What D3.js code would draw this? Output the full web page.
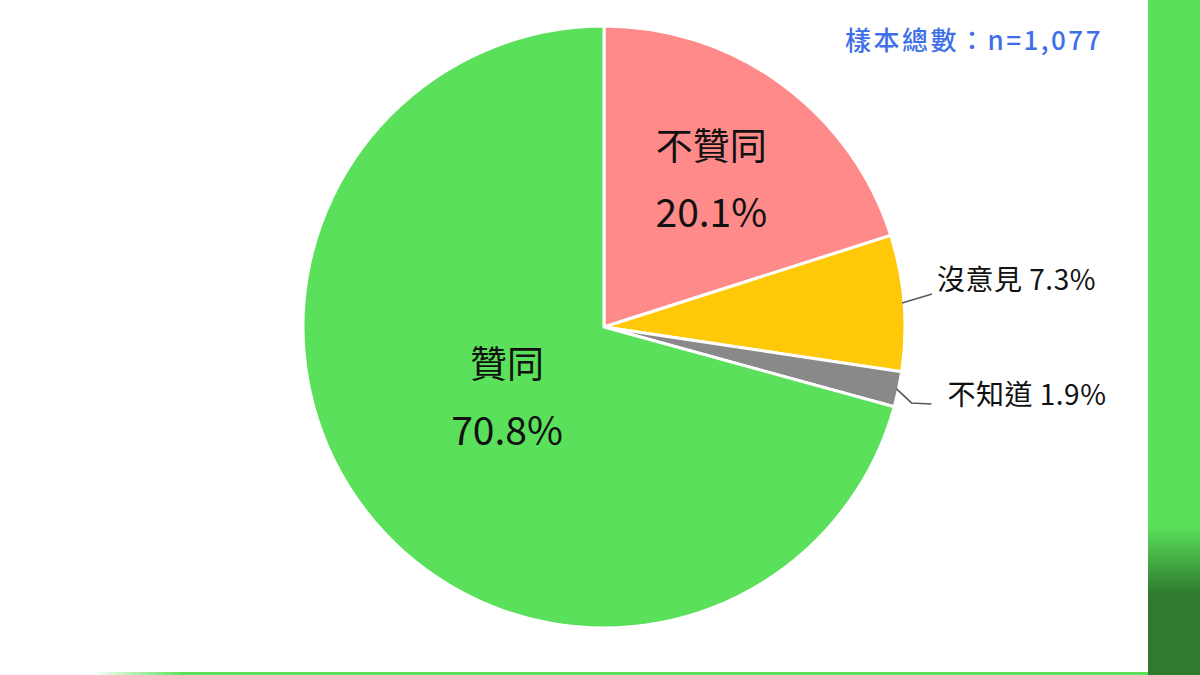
<!DOCTYPE html>
<html>
<head>
<meta charset="utf-8">
<script src="https://cdn.jsdelivr.net/npm/d3@7/dist/d3.min.js"></script>
<style>
  html, body { margin: 0; padding: 0; background: #fff; }
  svg { display: block; font-family: "Noto Sans CJK TC", "Noto Sans", sans-serif; }
</style>
</head>
<body>
<svg id="chart" width="1200" height="675"></svg>
<script>
var width = 1200;
var height = 675;

// slices, clockwise from 12 o'clock
var labels = ["不贊同", "沒意見", "不知道", "贊同"];
var values = [20.1, 7.3, 1.9, 70.8];
var colors = ["#FF8A8A", "#FFC808", "#898989", "#5AE05A"];
var sampleText = "樣本總數：n=1,077";

var cx = 604, cy = 327, radius = 301;

var svg = d3.select("#chart");
var defs = svg.append("defs");

// side bar gradient
var side = defs.append("linearGradient")
    .attr("id", "sideGrad")
    .attr("x1", 0).attr("y1", 0).attr("x2", 0).attr("y2", 1);
side.append("stop").attr("offset", "0.78").attr("stop-color", "#5AE05A");
side.append("stop").attr("offset", "0.88").attr("stop-color", "#2F7A2F");
side.append("stop").attr("offset", "1").attr("stop-color", "#2F7A2F");

var bottom = defs.append("linearGradient")
    .attr("id", "bottomGrad")
    .attr("x1", 0).attr("y1", 0).attr("x2", 1).attr("y2", 0);
bottom.append("stop").attr("offset", "0.08").attr("stop-color", "#5AE05A").attr("stop-opacity", 0);
bottom.append("stop").attr("offset", "0.16").attr("stop-color", "#5AE05A").attr("stop-opacity", 1);

svg.append("rect")
    .attr("x", 1148).attr("y", 0)
    .attr("width", width - 1148).attr("height", height)
    .style("fill", "url(#sideGrad)");

svg.append("rect")
    .attr("x", 0).attr("y", 672)
    .attr("width", 1148).attr("height", 3)
    .style("fill", "url(#bottomGrad)");

var data = labels.map(function(l, i) { return {label: l, value: values[i], color: colors[i]}; });

var pie = d3.pie()
    .sort(null)
    .value(function(d) { return d.value; });

var arc = d3.arc().innerRadius(0).outerRadius(radius);

var arcs = pie(data);

var g = svg.append("g")
    .attr("transform", "translate(" + cx + "," + cy + ")");

g.selectAll("path.slice")
    .data(arcs)
    .enter().append("path")
    .attr("class", "slice")
    .attr("d", arc)
    .style("fill", function(d) { return d.data.color; })
    .style("stroke", "#fff")
    .style("stroke-width", 3)
    .style("stroke-linejoin", "round");

function polar(r, a) { return [r * Math.sin(a), -r * Math.cos(a)]; }
function mid(d) { return (d.startAngle + d.endAngle) / 2; }

// labels inside the two big slices (radius along the mid angle, small vertical nudge)
var inside = {"不贊同": {r: 182, dy: -3}, "贊同": {r: 122, dy: -6}};
arcs.filter(function(d) { return inside[d.data.label]; }).forEach(function(d) {
    var spec = inside[d.data.label];
    var p = polar(spec.r, mid(d));
    g.append("text")
        .attr("x", p[0]).attr("y", p[1] - 33 + spec.dy)
        .attr("text-anchor", "middle")
        .attr("dominant-baseline", "central")
        .style("font-size", "37px")
        .style("fill", "#111")
        .text(d.data.label);
    g.append("text")
        .attr("x", p[0]).attr("y", p[1] + 33 + spec.dy)
        .attr("text-anchor", "middle")
        .attr("dominant-baseline", "central")
        .style("font-size", "39px")
        .style("fill", "#111")
        .text(d.data.value.toFixed(1) + "%");
});

// leader-line labels for the small slices
var outside = arcs.filter(function(d) { return !inside[d.data.label]; });
var leaders = {
    "沒意見": {pts: [[30, -9]], tx: 35, ty: -25},
    "不知道": {pts: [[15, 14], [35, 15]], tx: 51, ty: 4}
};
outside.forEach(function(d) {
    var p0 = polar(radius - 2, mid(d));
    var spec = leaders[d.data.label];
    var pts = [p0].concat(spec.pts.map(function(q) { return [p0[0] + q[0], p0[1] + q[1]]; }));
    g.append("path")
        .attr("d", d3.line()(pts))
        .style("fill", "none")
        .style("stroke", "#595959")
        .style("stroke-width", 1.6);
    g.append("text")
        .attr("x", p0[0] + spec.tx)
        .attr("y", p0[1] + spec.ty)
        .attr("dominant-baseline", "central")
        .style("font-size", "28px")
        .style("letter-spacing", "0.5px")
        .style("fill", "#111")
        .text(d.data.label + " " + d.data.value.toFixed(1) + "%");
});

svg.append("text")
    .attr("x", 1103)
    .attr("y", 38)
    .attr("text-anchor", "end")
    .attr("dominant-baseline", "central")
    .style("font-size", "26px")
    .style("font-weight", 500)
    .style("letter-spacing", "2.5px")
    .style("fill", "#3E6FE8")
    .text(sampleText);
</script>
</body>
</html>
